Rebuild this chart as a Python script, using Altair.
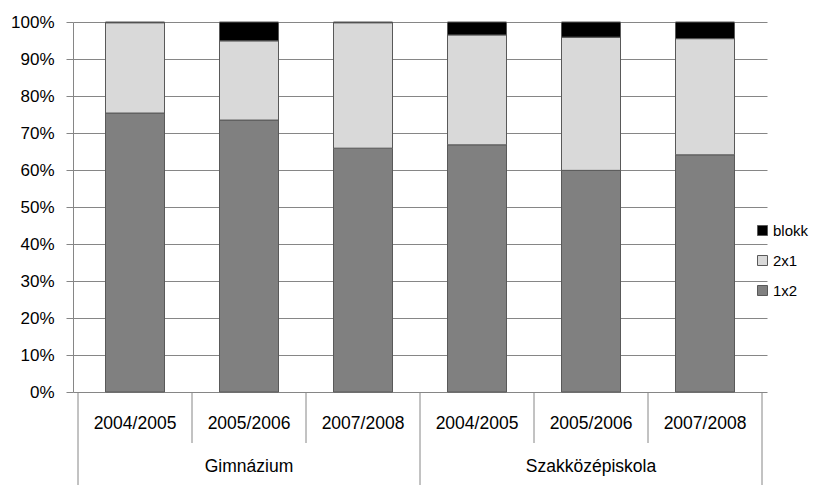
import altair as alt
import pandas as pd

groups = ["Gimnázium"] * 3 + ["Szakközépiskola"] * 3
years = ["2004/2005", "2005/2006", "2007/2008"] * 2
v_1x2 = [75.4, 73.5, 65.9, 66.8, 59.9, 64.1]
v_2x1 = [24.4, 21.4, 33.9, 29.7, 36.0, 31.4]
v_blokk = [0.2, 5.1, 0.2, 3.5, 4.1, 4.5]
series = ["1x2", "2x1", "blokk"]
legend_order = ["blokk", "2x1", "1x2"]
colors = ["#000000", "#d9d9d9", "#808080"]

W, H = 694, 370

rows = []
for i in range(len(years)):
    for k, (name, vals) in enumerate(zip(series, [v_1x2, v_2x1, v_blokk])):
        rows.append({"idx": i, "group": groups[i], "year": years[i],
                     "series": name, "order": k, "value": vals[i] / 100})
df = pd.DataFrame(rows)

cats = pd.DataFrame({"idx": list(range(len(years))), "group": groups, "year": years})
bounds = pd.DataFrame({"pos": [i - 0.5 for i in range(len(years) + 1)]})
bounds["kind"] = ["group" if (i == 0 or i == len(years) or groups[i] != groups[i - 1]) else "year"
                  for i in range(len(years) + 1)]

xscale = alt.Scale(domain=[-0.5, len(years) - 0.5], nice=False, zero=False)
font = "Liberation Sans"

bars = alt.Chart(df).mark_bar(size=59, stroke="#595959", strokeWidth=1).encode(
    x=alt.X("idx:Q", scale=xscale, axis=None),
    y=alt.Y("value:Q", stack="zero",
            scale=alt.Scale(domain=[0, 1], nice=False),
            axis=alt.Axis(format="%", values=[i / 10 for i in range(11)], title=None,
                          tickSize=7, tickColor="#868686", domainColor="#868686",
                          gridColor="#868686", labelFontSize=17, labelColor="black",
                          labelFont=font, labelPadding=12)),
    color=alt.Color("series:N", scale=alt.Scale(domain=legend_order, range=colors),
                    legend=alt.Legend(title=None, orient="none", legendX=682, legendY=201,
                                      symbolType="square", symbolSize=100,
                                      symbolStrokeColor="#595959", symbolStrokeWidth=1,
                                      labelFontSize=15, labelFont=font, labelColor="black",
                                      rowPadding=14, labelOffset=3, padding=0)),
    order=alt.Order("order:Q"),
)

year_div = alt.Chart(bounds).transform_filter(alt.datum.kind == "year").mark_rule(
    color="#868686", strokeWidth=1).encode(
    x=alt.X("pos:Q", scale=xscale), y=alt.value(H), y2=alt.value(H + 51))
group_div = alt.Chart(bounds).transform_filter(alt.datum.kind == "group").mark_rule(
    color="#868686", strokeWidth=1).encode(
    x=alt.X("pos:Q", scale=xscale), y=alt.value(H), y2=alt.value(H + 110))

year_txt = alt.Chart(cats).mark_text(font=font, fontSize=17.5, color="black", baseline="middle").encode(
    x=alt.X("idx:Q", scale=xscale), y=alt.value(H + 32), text="year:N")
group_txt = alt.Chart(cats).transform_aggregate(
    mid="mean(idx)", groupby=["group"]).mark_text(
    font=font, fontSize=17.5, color="black", baseline="middle").encode(
    x=alt.X("mid:Q", scale=xscale), y=alt.value(H + 75), text="group:N")

chart = alt.layer(bars, year_div, group_div, year_txt, group_txt).properties(
    width=W, height=H,
    autosize=alt.AutoSizeParams(type="none"),
    padding={"left": 65, "top": 14, "right": 42, "bottom": 93},
).configure_view(stroke=None)

chart.save("out.html", embed_options={"renderer": "svg", "actions": False})
